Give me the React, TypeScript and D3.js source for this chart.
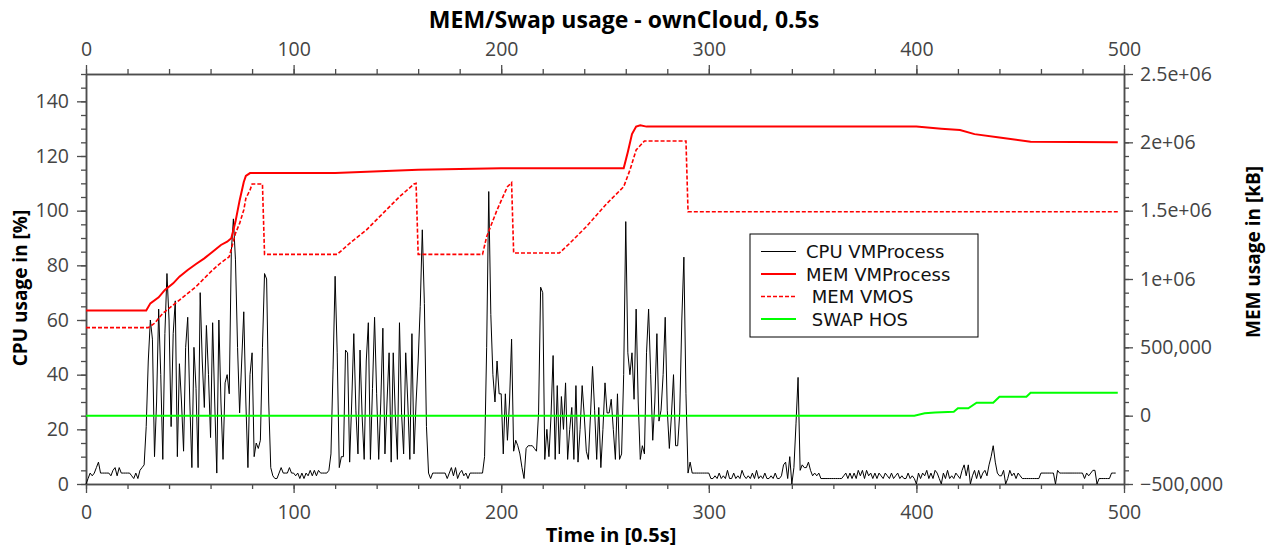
import React, { useEffect, useRef } from "react";
import * as d3 from "d3";

// CPU load of the VM process, one value per time step (0.5s), in %
const cpuLoad = [
  0, 2, 4, 3, 4, 6, 8, 4, 4, 4,
  4, 4, 3, 5, 6, 3, 6, 4, 4, 4,
  4, 4, 3, 2, 4, 2, 5, 6, 7, 21,
  45, 60, 53, 10, 30, 64, 40, 9, 55, 77,
  60, 21, 55, 67, 10, 44, 30, 12, 50, 61,
  30, 6, 50, 35, 6, 70, 45, 28, 58, 40,
  17, 59, 30, 4, 60, 30, 9, 37, 40, 33,
  85, 97, 82, 50, 26, 45, 63, 30, 6, 40,
  48, 10, 15, 13, 16, 50, 77, 75, 30, 6,
  3, 2, 2, 4, 6, 4, 4, 4, 6, 4,
  4, 3, 4, 2, 4, 2, 4, 3, 5, 3,
  5, 3, 5, 4, 4, 4, 4, 5, 11, 42,
  76, 48, 6, 10, 10, 49, 48, 8, 30, 55,
  27, 11, 49, 25, 9, 45, 59, 9, 35, 61,
  33, 9, 30, 57, 11, 30, 48, 8, 48, 25,
  9, 59, 26, 11, 48, 30, 9, 55, 11, 30,
  45, 65, 93, 66, 21, 4, 2, 4, 4, 4,
  4, 4, 4, 4, 2, 4, 6, 3, 6, 2,
  4, 5, 3, 4, 2, 4, 4, 4, 4, 4,
  4, 4, 10, 50, 107, 62, 40, 30, 45, 33,
  33, 11, 33, 16, 30, 53, 12, 16, 14, 11,
  6, 2, 13, 14, 14, 14, 13, 12, 26, 72,
  70, 9, 20, 10, 25, 47, 9, 36, 11, 32,
  20, 37, 9, 20, 28, 9, 36, 8, 20, 36,
  25, 12, 9, 25, 43, 27, 9, 28, 6, 20,
  37, 26, 26, 31, 20, 9, 33, 9, 11, 40,
  96, 48, 40, 48, 31, 64, 30, 9, 14, 11,
  48, 64, 40, 16, 30, 55, 23, 27, 40, 61,
  27, 13, 25, 40, 14, 14, 26, 60, 83, 33,
  4, 8, 4, 4, 4, 4, 4, 4, 4, 4,
  4, 2, 2, 3, 2, 4, 2, 3, 2, 5,
  2, 2, 4, 2, 3, 2, 5, 3, 2, 3,
  2, 4, 2, 5, 2, 3, 2, 4, 2, 2,
  3, 2, 4, 2, 2, 3, 7, 8, 2, 10,
  0, 6, 22, 39, 5, 7, 6, 6, 8, 5,
  3, 4, 3, 4, 2, 2, 2, 2, 2, 2,
  2, 2, 2, 2, 2, 3, 4, 2, 4, 2,
  4, 2, 5, 3, 5, 2, 5, 3, 4, 2,
  4, 2, 4, 3, 2, 4, 3, 2, 4, 2,
  3, 4, 2, 3, 2, 2, 4, 2, 3, 2,
  0, 4, 2, 4, 3, 5, 2, 4, 2, 5,
  4, 2, 0, 4, 2, 5, 2, 3, 2, 4,
  3, 2, 5, 7, 3, 7, 0, 3, 5, 2,
  5, 2, 4, 5, 3, 7, 10, 14, 8, 4,
  3, 3, 5, 0, 2, 5, 3, 4, 2, 4,
  3, 2, 2, 2, 2, 2, 2, 2, 2, 2,
  4, 4, 4, 4, 4, 4, 4, 0, 5, 4,
  4, 4, 4, 4, 4, 4, 4, 4, 4, 4,
  4, 2, 4, 3, 4, 5, 5, 0, 2, 2,
  2, 2, 2, 2, 4, 4, 4,
];

// MEM of the VM process (kB), read at the points where it changes
const memProcTime = [0, 29, 31, 35, 38, 42, 45, 49, 53, 57, 61, 65, 68, 70, 72, 74, 76, 77, 79, 120, 160, 200, 259, 261, 263, 265, 267, 270, 400, 412, 421, 428, 440, 455, 497];
const memProcKb = [770000, 770000, 822000, 866000, 920000, 968000, 1017000, 1066000, 1110000, 1151000, 1200000, 1249000, 1273000, 1298000, 1420000, 1575000, 1710000, 1755000, 1775000, 1775000, 1800000, 1810000, 1810000, 1930000, 2060000, 2115000, 2125000, 2115000, 2115000, 2100000, 2090000, 2060000, 2035000, 2005000, 2000000];

// MEM of the VM OS (kB)
const memOsTime = [0, 30, 33, 37, 41, 45, 49, 53, 57, 61, 65, 69, 72, 74, 76, 77, 79, 80, 85, 86, 121, 127, 135, 143, 151, 158, 159, 160, 191, 193, 198, 203, 205, 206, 228, 233, 241, 251, 259, 262, 265, 269, 289, 290, 497];
const memOsKb = [644000, 644000, 676000, 749000, 797000, 846000, 895000, 944000, 1005000, 1066000, 1119000, 1163000, 1334000, 1407000, 1505000, 1590000, 1650000, 1695000, 1695000, 1180000, 1180000, 1261000, 1358000, 1480000, 1602000, 1695000, 1700000, 1180000, 1180000, 1310000, 1505000, 1675000, 1705000, 1190000, 1190000, 1261000, 1383000, 1554000, 1675000, 1797000, 1944000, 2010000, 2010000, 1492000, 1492000];

// swap of the host OS (kB)
const swapTime = [0, 399, 404, 409, 418, 420, 425, 429, 437, 440, 453, 455, 497];
const swapKb = [0, 0, 17000, 23000, 29000, 54000, 54000, 95000, 95000, 139000, 139000, 168000, 168000];

const timeTicks = [0, 100, 200, 300, 400, 500];
const cpuTicks = [0, 20, 40, 60, 80, 100, 120, 140];
const memTicks = [-500000, 0, 500000, 1000000, 1500000, 2000000, 2500000];
const memTickLabels = ["\u2212500,000", "0", "500,000", "1e+06", "1.5e+06", "2e+06", "2.5e+06"];

const legendNames = ["CPU VMProcess", "MEM VMProcess", " MEM VMOS", " SWAP HOS"];

export default function App() {
  const ref = useRef(null);

  useEffect(() => {
    draw();
  }, []);

  let draw = () => {
    let svg = d3.select(ref.current);
    svg.selectAll("*").remove();

    let font = "'Open Sans', 'Noto Sans', sans-serif";
    let axisColor = "#4d4d4d";
    let left = 86, right = 1124, top = 74, bottom = 484;

    let x = d3.scaleLinear().domain([0, 500]).range([left, right]);
    let yCpu = d3.scaleLinear().domain([0, 150]).range([bottom, top]);
    let yMem = d3.scaleLinear().domain([-500000, 2500000]).range([bottom, top]);

    let styleAxis = (g) => {
      g.selectAll("path").attr("stroke", axisColor).attr("stroke-width", 1.5);
      g.selectAll("line").attr("stroke", axisColor).attr("stroke-width", 1.3);
      g.selectAll("text")
        .attr("fill", "#444")
        .style("font-family", font)
        .style("font-size", "19.5px");
    };

    let minor = (from, to, step) => d3.range(from, to + step / 2, step);

    // bottom
    svg.append("g").attr("transform", `translate(0, ${bottom})`)
      .call(d3.axisBottom(x).tickValues(minor(0, 500, 20)).tickSize(5).tickFormat(() => "").tickSizeOuter(0))
      .call(styleAxis);
    svg.append("g").attr("transform", `translate(0, ${bottom})`)
      .call(d3.axisBottom(x).tickValues(timeTicks).tickSize(9).tickPadding(12).tickSizeOuter(0))
      .call(styleAxis);

    // top
    svg.append("g").attr("transform", `translate(0, ${top})`)
      .call(d3.axisTop(x).tickValues(minor(0, 500, 20)).tickSize(5).tickFormat(() => "").tickSizeOuter(0))
      .call(styleAxis);
    svg.append("g").attr("transform", `translate(0, ${top})`)
      .call(d3.axisTop(x).tickValues(timeTicks).tickSize(9).tickPadding(9).tickSizeOuter(0))
      .call(styleAxis);

    // left
    svg.append("g").attr("transform", `translate(${left}, 0)`)
      .call(d3.axisLeft(yCpu).tickValues(minor(0, 150, 5)).tickSize(5).tickFormat(() => "").tickSizeOuter(0))
      .call(styleAxis);
    svg.append("g").attr("transform", `translate(${left}, 0)`)
      .call(d3.axisLeft(yCpu).tickValues(cpuTicks).tickSize(9).tickPadding(8).tickSizeOuter(0))
      .call(styleAxis);

    // right
    svg.append("g").attr("transform", `translate(${right}, 0)`)
      .call(d3.axisRight(yMem).tickValues(minor(-500000, 2500000, 100000)).tickSize(5).tickFormat(() => "").tickSizeOuter(0))
      .call(styleAxis);
    svg.append("g").attr("transform", `translate(${right}, 0)`)
      .call(d3.axisRight(yMem).tickValues(memTicks).tickSize(9).tickPadding(7).tickSizeOuter(0)
        .tickFormat((d, i) => memTickLabels[i]))
      .call(styleAxis);

    // lines
    let cpuLine = d3.line().x((d, i) => x(i)).y((d) => yCpu(d));
    svg.append("path").datum(cpuLoad)
      .attr("d", cpuLine).attr("fill", "none")
      .attr("stroke", "#000").attr("stroke-width", 1);

    let memLine = (times, values) =>
      d3.line().x((d, i) => x(times[i])).y((d) => yMem(d))(values);

    svg.append("path").attr("d", memLine(memProcTime, memProcKb))
      .attr("fill", "none").attr("stroke", "#ff0000").attr("stroke-width", 2);
    svg.append("path").attr("d", memLine(memOsTime, memOsKb))
      .attr("fill", "none").attr("stroke", "#ff0000").attr("stroke-width", 1.6)
      .attr("stroke-dasharray", "4,2");
    svg.append("path").attr("d", memLine(swapTime, swapKb))
      .attr("fill", "none").attr("stroke", "#00ff00").attr("stroke-width", 2);

    // titles
    svg.append("text").attr("x", 624).attr("y", 28)
      .attr("text-anchor", "middle").attr("font-weight", "bold")
      .style("font-family", font).style("font-size", "23px")
      .text("MEM/Swap usage - ownCloud, 0.5s");
    svg.append("text").attr("x", 611).attr("y", 542)
      .attr("text-anchor", "middle").attr("font-weight", "bold")
      .style("font-family", font).style("font-size", "20px")
      .text("Time in [0.5s]");
    svg.append("text").attr("transform", "translate(27, 288) rotate(-90)")
      .attr("text-anchor", "middle").attr("font-weight", "bold")
      .style("font-family", font).style("font-size", "19px")
      .text("CPU usage in [%]");
    svg.append("text").attr("transform", "translate(1260, 252) rotate(-90)")
      .attr("text-anchor", "middle").attr("font-weight", "bold")
      .style("font-family", font).style("font-size", "19px")
      .text("MEM usage in [kB]");

    // legend
    let legend = svg.append("g").attr("transform", "translate(750, 234)");
    legend.append("rect").attr("width", 228).attr("height", 103)
      .attr("fill", "#fff").attr("stroke", "#000").attr("stroke-width", 1);
    let sample = [
      { stroke: "#000", width: 1, dash: null },
      { stroke: "#ff0000", width: 2, dash: null },
      { stroke: "#ff0000", width: 1.6, dash: "4,2" },
      { stroke: "#00ff00", width: 2, dash: null },
    ];
    legend.selectAll("g.entry").data(legendNames).enter().append("g")
      .attr("class", "entry")
      .attr("transform", (d, i) => `translate(0, ${17.5 + i * 22.5})`)
      .each(function (d, i) {
        let g = d3.select(this);
        g.append("line").attr("x1", 11).attr("x2", 46).attr("y1", 0).attr("y2", 0)
          .attr("stroke", sample[i].stroke).attr("stroke-width", sample[i].width)
          .attr("stroke-dasharray", sample[i].dash);
        g.append("text").attr("x", 56).attr("y", 6.5)
          .attr("xml:space", "preserve").style("white-space", "pre")
          .style("font-family", "'DejaVu Sans', sans-serif").style("font-size", "18px").attr("fill", "#111")
          .text(d);
      });
  };

  return (
    <svg ref={ref} width={1274} height={550}
      style={{ position: "absolute", left: 0, top: 0, background: "#fff" }} />
  );
}
